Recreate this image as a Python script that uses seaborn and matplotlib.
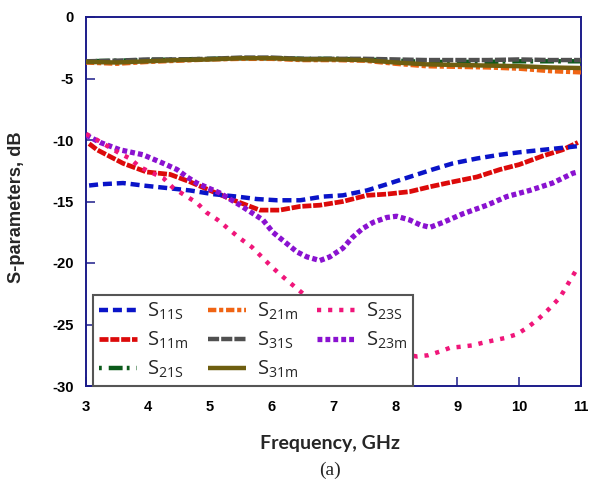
import numpy as np
import pandas as pd
import matplotlib
matplotlib.use("Agg")
import matplotlib.pyplot as plt
import seaborn as sns
from matplotlib import font_manager

# ---------------- data ----------------
f_top = [3.0, 3.5, 4.0, 4.5, 5.0, 5.5, 6.0, 6.5, 7.0, 7.5, 8.0, 8.5, 9.0, 9.5, 10.0, 10.5, 11.0]
s21s = [-3.6, -3.55, -3.5, -3.45, -3.4, -3.35, -3.35, -3.4, -3.4, -3.45, -3.55, -3.65, -3.65, -3.65, -3.6, -3.6, -3.6]
s21m = [-3.7, -3.8, -3.65, -3.55, -3.45, -3.4, -3.4, -3.5, -3.5, -3.55, -3.8, -4.0, -4.05, -4.1, -4.2, -4.4, -4.5]
s31s = [-3.6, -3.55, -3.45, -3.45, -3.4, -3.3, -3.3, -3.4, -3.4, -3.4, -3.45, -3.5, -3.5, -3.5, -3.45, -3.5, -3.5]
s31m = [-3.65, -3.7, -3.6, -3.5, -3.45, -3.35, -3.35, -3.45, -3.45, -3.5, -3.7, -3.85, -3.9, -3.95, -4.0, -4.1, -4.15]

f_s11s = [3.05, 3.23, 3.6, 3.92, 4.3, 4.68, 5.05, 5.44, 5.76, 6.09, 6.46, 6.83, 7.15, 7.54,
          7.86, 8.23, 8.6, 8.93, 9.32, 9.69, 10.0, 10.38, 10.77, 10.95]
s11s = [-13.7, -13.6, -13.5, -13.7, -13.9, -14.1, -14.4, -14.6, -14.8, -14.9, -14.9, -14.6, -14.5, -14.1,
        -13.6, -13.0, -12.4, -11.9, -11.5, -11.2, -11.0, -10.8, -10.6, -10.5]

f_s11m = [3.05, 3.18, 3.6, 3.98, 4.36, 4.68, 5.05, 5.44, 5.81, 6.13, 6.46, 6.78, 7.15, 7.54,
          7.86, 8.23, 8.56, 8.93, 9.32, 9.69, 10.0, 10.38, 10.7, 10.95]
s11m = [-10.3, -10.8, -11.9, -12.6, -12.8, -13.4, -14.2, -15.0, -15.7, -15.7, -15.4, -15.3, -15.0, -14.5,
        -14.4, -14.2, -13.8, -13.4, -13.0, -12.4, -12.0, -11.3, -10.8, -10.2]

f_s23m = [3.0, 3.23, 3.55, 3.92, 4.25, 4.47, 4.63, 4.79, 5.16, 5.49, 5.86, 6.02, 6.24, 6.41, 6.57,
          6.78, 6.94, 7.15, 7.31, 7.47, 7.64, 7.86, 8.02, 8.23, 8.4, 8.56, 8.77, 9.09, 9.48, 9.8,
          10.17, 10.54, 10.87, 10.95]
s23m = [-9.6, -10.2, -10.8, -11.2, -11.9, -12.4, -13.0, -13.5, -14.3, -15.3, -16.5, -17.5, -18.4, -19.1, -19.5,
        -19.8, -19.5, -18.8, -17.9, -17.2, -16.7, -16.3, -16.2, -16.5, -16.9, -17.1, -16.7, -16.0, -15.3, -14.6,
        -14.1, -13.5, -12.7, -12.6]

f_s23s = [3.0, 3.18, 3.55, 3.71, 3.87, 4.25, 4.41, 4.63, 4.79, 4.95, 5.13, 5.32, 5.49, 5.68, 5.84, 6.02,
          6.2, 6.39, 6.7, 7.0, 7.5, 8.0, 8.35, 8.53, 8.72, 8.88, 9.07, 9.24, 9.4, 9.58, 9.77, 9.96,
          10.12, 10.3, 10.47, 10.66, 10.79, 10.92]
s23s = [-9.5, -10.0, -11.1, -11.5, -12.2, -13.1, -13.9, -14.6, -15.1, -15.9, -16.5, -17.3, -18.0, -18.7, -19.5, -20.4,
        -21.2, -22.0, -23.3, -24.5, -26.2, -27.3, -27.6, -27.5, -27.2, -26.9, -26.8, -26.7, -26.5, -26.3, -26.1, -25.8,
        -25.3, -24.6, -23.8, -22.8, -21.7, -20.6]

x_ticks = [3, 4, 5, 6, 7, 8, 9, 10, 11]
y_ticks = [0, -5, -10, -15, -20, -25, -30]

# ---------------- style ----------------
sns.set_theme(style="white")
plt.rcParams["font.family"] = ["Liberation Sans", "DejaVu Sans"]
plt.rcParams["mathtext.default"] = "regular"
plt.rcParams["lines.scale_dashes"] = False

installed = {f.name for f in font_manager.fontManager.ttflist}
narrow = "Liberation Sans Narrow" if "Liberation Sans Narrow" in installed else "Liberation Sans"
narrow_size = 1.0 if narrow == "Liberation Sans Narrow" else 0.85

navy = "#1c1c8a"
fig = plt.figure(figsize=(5.91, 4.88), dpi=100)
ax = fig.add_axes([86 / 591, 1 - 386 / 488, 495 / 591, 369 / 488])

series = [
    # name, x, y, color, lw, linestyle, zorder
    ("S$_{11S}$", f_s11s, s11s, "#0a14c8", 3.2, (0, (6.5, 3.5)), 5),
    ("S$_{11m}$", f_s11m, s11m, "#dc0a0a", 3.4, (0, (6.5, 1.3)), 4),
    ("S$_{21S}$", f_top, s21s, "#0b5a1a", 3.2, (0, (2, 5, 10, 3)), 3),
    ("S$_{21m}$", f_top, s21m, "#f06414", 3.2, (0, (6, 2, 3, 2)), 3.1),
    ("S$_{31S}$", f_top, s31s, "#505050", 3.2, (0, (8, 1.5)), 3.2),
    ("S$_{31m}$", f_top, s31m, "#6e5e10", 3.2, "-", 3.3),
    ("S$_{23S}$", f_s23s, s23s, "#f0167a", 3.2, (0, (3, 5)), 6),
    ("S$_{23m}$", f_s23m, s23m, "#8a12d0", 3.8, (0, (3.5, 2.2)), 5.5),
]

handles = []
for name, xs, ys, col, lw, ls, z in series:
    df = pd.DataFrame({"f": xs, "v": ys})
    n_before = len(ax.get_lines())
    sns.lineplot(data=df, x="f", y="v", ax=ax, color=col, linewidth=lw,
                 linestyle=ls, sort=False, errorbar=None, legend=False)
    line = ax.get_lines()[n_before]
    line.set_solid_capstyle("butt")
    line.set_dash_capstyle("butt")
    line.set_zorder(z)
    line.set_label(name)
    handles.append(line)

ax.set_xlim(3, 11)
ax.set_ylim(-30, 0)
ax.set_xticks(x_ticks)
ax.set_yticks(y_ticks)
tick_font = dict(fontweight="bold", fontsize=12.5 * narrow_size, family=[narrow, "DejaVu Sans"])
ax.set_xticklabels([str(t) for t in x_ticks], **tick_font)
ax.set_yticklabels([str(t) for t in y_ticks], **tick_font)
ax.tick_params(axis="both", direction="in", length=6.5, width=1.1, color=navy,
               labelcolor="black", bottom=True, left=True, top=False, right=False)
ax.tick_params(axis="x", pad=10)
ax.tick_params(axis="y", pad=9)
for sp in ax.spines.values():
    sp.set_color(navy)
    sp.set_linewidth(1.4)
    sp.set_visible(True)

ax.set_xlabel("")
ax.set_ylabel("")
fig.text(330 / 591, 1 - 443 / 488, "Frequency, GHz", ha="center", va="center",
         fontsize=14, fontweight="bold", family=["Lato", "DejaVu Sans"])
fig.text(17 / 591, 1 - 207 / 488, "S-parameters, dB", ha="center", va="center",
         rotation=90, fontsize=15.5 * narrow_size, fontweight="bold", family=[narrow, "DejaVu Sans"])
fig.text(330 / 591, 1 - 470 / 488, "(a)", ha="center", va="center",
         fontsize=14, family=["Liberation Serif", "DejaVu Serif"])

leg = ax.legend(handles=handles, ncol=3, loc="lower left",
                bbox_to_anchor=(7 / 495, 0, 320 / 495, 96 / 369), mode="expand",
                borderaxespad=0, fancybox=False, frameon=True, framealpha=1,
                edgecolor="#555555", facecolor="white",
                prop={"family": ["Open Sans", "DejaVu Sans"], "size": 14.5},
                handlelength=1.9, handletextpad=0.5, labelspacing=0.38,
                columnspacing=0.8, borderpad=0.3)
leg.get_frame().set_linewidth(1.5)
leg.set_zorder(10)

fig.savefig("out.png", dpi=100)
